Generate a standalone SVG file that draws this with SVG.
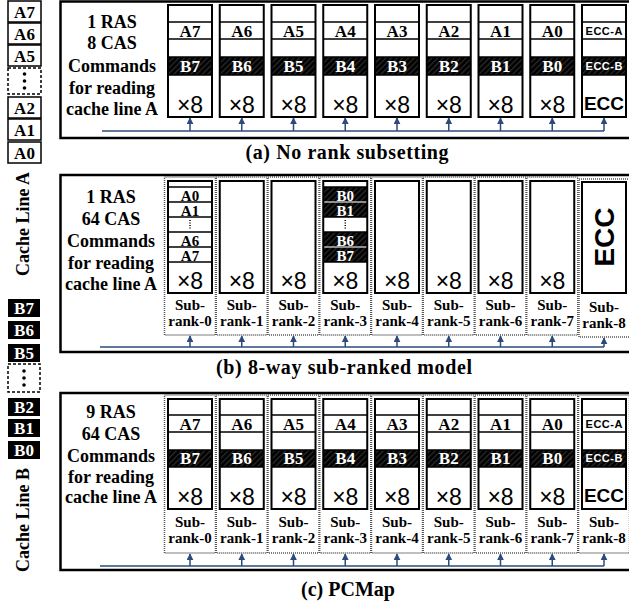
<svg xmlns="http://www.w3.org/2000/svg" width="629" height="607" viewBox="0 0 629 607">
<style>
.chip{fill:none;stroke:#000;stroke-width:2}
.bg{fill:#fff}
.row{stroke:#000;stroke-width:1.3;fill:none}
.sub{fill:none;stroke:#555;stroke-width:1.5;stroke-dasharray:1 1}
.lbl{font-family:"Liberation Serif",serif;font-weight:bold;font-size:17px;text-anchor:middle}
.sm{font-size:15px}
.cap{font-family:"Liberation Serif",serif;font-weight:bold;font-size:20px;text-anchor:middle}
.side{font-family:"Liberation Serif",serif;font-weight:bold;font-size:18px;text-anchor:middle}
.sr{font-family:"Liberation Serif",serif;font-weight:bold;font-size:15px;text-anchor:middle}
.w{fill:#fff}
.x8{font-family:"Liberation Sans",sans-serif;font-size:23px;text-anchor:middle}
.ecc{font-family:"Liberation Sans",sans-serif;font-weight:bold;text-anchor:middle}
.bus{stroke:#2c4a7c;stroke-width:1.5;fill:none}
.arr{stroke:#2c4a7c;stroke-width:1.5;fill:none;marker-end:url(#ah)}
.panel{fill:none;stroke:#000;stroke-width:2.5}
.box{fill:#fff;stroke:#000;stroke-width:1.5}
.dbox{fill:#fff;stroke:#000;stroke-width:1.5;stroke-dasharray:3 2}
</style>
<defs>
<pattern id="hatch" width="4" height="4" patternUnits="userSpaceOnUse" patternTransform="rotate(45)">
<rect width="4" height="4" fill="#000"/><rect width="1.3" height="4" fill="#2b2b2b"/>
</pattern>
<marker id="ah" viewBox="0 0 10 10" refX="9" refY="5" markerWidth="7" markerHeight="7" orient="auto" markerUnits="userSpaceOnUse">
<path d="M0 0L10 5L0 10z" fill="#2c4a7c"/>
</marker>
</defs>
<rect width="629" height="607" fill="#fff"/>

<!-- Left column: cache line A -->
<g id="cacheA">
<rect class="box" x="8" y="1" width="33" height="21"/><text class="lbl" x="24.5" y="18">A7</text>
<rect class="box" x="8" y="23" width="33" height="21"/><text class="lbl" x="24.5" y="40">A6</text>
<rect class="box" x="8" y="45" width="33" height="21"/><text class="lbl" x="24.5" y="62">A5</text>
<rect class="dbox" x="8" y="68" width="33" height="26"/>
<circle cx="24.5" cy="74" r="1.8"/><circle cx="24.5" cy="81" r="1.8"/><circle cx="24.5" cy="88" r="1.8"/>
<rect class="box" x="8" y="97" width="33" height="21"/><text class="lbl" x="24.5" y="114">A2</text>
<rect class="box" x="8" y="119" width="33" height="21"/><text class="lbl" x="24.5" y="136">A1</text>
<rect class="box" x="8" y="142" width="33" height="21"/><text class="lbl" x="24.5" y="159">A0</text>
<text class="lbl" style="font-size:18px" transform="translate(29 224) rotate(-90)">Cache Line A</text>
</g>

<!-- Left column: cache line B -->
<g id="cacheB">
<rect x="8" y="299" width="32" height="18"/><text class="lbl w" x="24" y="314">B7</text>
<rect x="8" y="321" width="32" height="18"/><text class="lbl w" x="24" y="336">B6</text>
<rect x="8" y="344" width="32" height="18"/><text class="lbl w" x="24" y="359">B5</text>
<rect class="dbox" x="8" y="364" width="32" height="28"/>
<circle cx="24" cy="371" r="1.8"/><circle cx="24" cy="378" r="1.8"/><circle cx="24" cy="385" r="1.8"/>
<rect x="8" y="398" width="32" height="18"/><text class="lbl w" x="24" y="413">B2</text>
<rect x="8" y="419" width="32" height="18"/><text class="lbl w" x="24" y="434">B1</text>
<rect x="8" y="441" width="32" height="18"/><text class="lbl w" x="24" y="456">B0</text>
<text class="lbl" style="font-size:18px" transform="translate(29 520) rotate(-90)">Cache Line B</text>
</g>

<!-- ================= Panel (a) ================= -->
<g id="panelA">
<rect class="panel" x="60.5" y="1.5" width="580" height="136.5"/>
<g id="a-cmd">
<text class="side" x="112" y="28">1 RAS</text>
<text class="side" x="112" y="49">8 CAS</text>
<text class="side" x="112" y="72">Commands</text>
<text class="side" x="112" y="94">for reading</text>
<text class="side" x="112" y="115">cache line A</text>
</g>
<text id="capA" class="cap" x="347" y="159" textLength="203">(a) No rank subsetting</text>
</g>

<g id="a-chip0" transform="translate(168 0)"><rect class="bg" x="0" y="5" width="44" height="112"/><rect x="0" y="57" width="44" height="18" fill="url(#hatch)"/><rect class="chip" x="0" y="5" width="44" height="112"/><path class="row" d="M0 22H44M0 39H44M0 57H44M0 75H44"/><text class="lbl" x="22" y="37">A7</text><text class="lbl w" x="22" y="72">B7</text><text class="x8" x="22" y="113">×8</text></g>
<g id="a-chip1" transform="translate(219.75 0)"><rect class="bg" x="0" y="5" width="44" height="112"/><rect x="0" y="57" width="44" height="18" fill="url(#hatch)"/><rect class="chip" x="0" y="5" width="44" height="112"/><path class="row" d="M0 22H44M0 39H44M0 57H44M0 75H44"/><text class="lbl" x="22" y="37">A6</text><text class="lbl w" x="22" y="72">B6</text><text class="x8" x="22" y="113">×8</text></g>
<g id="a-chip2" transform="translate(271.5 0)"><rect class="bg" x="0" y="5" width="44" height="112"/><rect x="0" y="57" width="44" height="18" fill="url(#hatch)"/><rect class="chip" x="0" y="5" width="44" height="112"/><path class="row" d="M0 22H44M0 39H44M0 57H44M0 75H44"/><text class="lbl" x="22" y="37">A5</text><text class="lbl w" x="22" y="72">B5</text><text class="x8" x="22" y="113">×8</text></g>
<g id="a-chip3" transform="translate(323.25 0)"><rect class="bg" x="0" y="5" width="44" height="112"/><rect x="0" y="57" width="44" height="18" fill="url(#hatch)"/><rect class="chip" x="0" y="5" width="44" height="112"/><path class="row" d="M0 22H44M0 39H44M0 57H44M0 75H44"/><text class="lbl" x="22" y="37">A4</text><text class="lbl w" x="22" y="72">B4</text><text class="x8" x="22" y="113">×8</text></g>
<g id="a-chip4" transform="translate(375 0)"><rect class="bg" x="0" y="5" width="44" height="112"/><rect x="0" y="57" width="44" height="18" fill="url(#hatch)"/><rect class="chip" x="0" y="5" width="44" height="112"/><path class="row" d="M0 22H44M0 39H44M0 57H44M0 75H44"/><text class="lbl" x="22" y="37">A3</text><text class="lbl w" x="22" y="72">B3</text><text class="x8" x="22" y="113">×8</text></g>
<g id="a-chip5" transform="translate(426.75 0)"><rect class="bg" x="0" y="5" width="44" height="112"/><rect x="0" y="57" width="44" height="18" fill="url(#hatch)"/><rect class="chip" x="0" y="5" width="44" height="112"/><path class="row" d="M0 22H44M0 39H44M0 57H44M0 75H44"/><text class="lbl" x="22" y="37">A2</text><text class="lbl w" x="22" y="72">B2</text><text class="x8" x="22" y="113">×8</text></g>
<g id="a-chip6" transform="translate(478.5 0)"><rect class="bg" x="0" y="5" width="44" height="112"/><rect x="0" y="57" width="44" height="18" fill="url(#hatch)"/><rect class="chip" x="0" y="5" width="44" height="112"/><path class="row" d="M0 22H44M0 39H44M0 57H44M0 75H44"/><text class="lbl" x="22" y="37">A1</text><text class="lbl w" x="22" y="72">B1</text><text class="x8" x="22" y="113">×8</text></g>
<g id="a-chip7" transform="translate(530.25 0)"><rect class="bg" x="0" y="5" width="44" height="112"/><rect x="0" y="57" width="44" height="18" fill="url(#hatch)"/><rect class="chip" x="0" y="5" width="44" height="112"/><path class="row" d="M0 22H44M0 39H44M0 57H44M0 75H44"/><text class="lbl" x="22" y="37">A0</text><text class="lbl w" x="22" y="72">B0</text><text class="x8" x="22" y="113">×8</text></g>
<g id="a-ecc" transform="translate(582 0)"><rect class="bg" x="0" y="5" width="44" height="112"/><rect x="0" y="57" width="44" height="18" fill="url(#hatch)"/><rect class="chip" x="0" y="5" width="44" height="112"/><path class="row" d="M0 22H44M0 39H44M0 57H44M0 75H44"/><text class="ecc" x="22" y="35" font-size="11" textLength="37">ECC-A</text><text class="ecc w" x="22" y="70" font-size="11" textLength="37">ECC-B</text><text class="ecc" x="22" y="110" font-size="19">ECC</text></g>

<!-- ================= Panel (b) ================= -->
<g id="panelB">
<rect class="panel" x="60.5" y="175" width="580" height="177"/>
<g id="b-cmd">
<text class="side" x="111" y="203">1 RAS</text>
<text class="side" x="111" y="225">64 CAS</text>
<text class="side" x="111" y="247">Commands</text>
<text class="side" x="111" y="269">for reading</text>
<text class="side" x="111" y="290">cache line A</text>
</g>
<text id="capB" class="cap" x="344" y="374" textLength="256">(b) 8-way sub-ranked model</text>
</g>

<g id="b-sr0" transform="translate(168 0)">
<rect class="sub" x="-3.5" y="177" width="51" height="158"/>
<rect class="bg" x="0" y="181" width="44" height="112"/>
<path class="row" d="M0 187H44M0 202H44M0 217H44M0 232H44M0 247H44M0 262H44"/>
<path d="M22 220V230" stroke="#000" stroke-width="1.5" stroke-dasharray="1 1.5"/>
<text class="lbl sm" x="22" y="200.5">A0</text><text class="lbl sm" x="22" y="215.5">A1</text><text class="lbl sm" x="22" y="245.5">A6</text><text class="lbl sm" x="22" y="260.5">A7</text>
<rect class="chip" x="0" y="181" width="44" height="112"/>
<text class="x8" x="22" y="289">×8</text>
<text class="sr" x="22" y="310">Sub-</text><text class="sr" x="22" y="326">rank-0</text>
</g>
<g id="b-sr1" transform="translate(219.75 0)"><rect class="sub" x="-3.5" y="177" width="51" height="158"/><rect class="chip" x="0" y="181" width="44" height="112" style="fill:#fff"/><text class="x8" x="22" y="289">×8</text><text class="sr" x="22" y="310">Sub-</text><text class="sr" x="22" y="326">rank-1</text></g>
<g id="b-sr2" transform="translate(271.5 0)"><rect class="sub" x="-3.5" y="177" width="51" height="158"/><rect class="chip" x="0" y="181" width="44" height="112" style="fill:#fff"/><text class="x8" x="22" y="289">×8</text><text class="sr" x="22" y="310">Sub-</text><text class="sr" x="22" y="326">rank-2</text></g>
<g id="b-sr3" transform="translate(323.25 0)">
<rect class="sub" x="-3.5" y="177" width="51" height="158"/>
<rect class="bg" x="0" y="181" width="44" height="112"/>
<rect x="0" y="187" width="44" height="30" fill="url(#hatch)"/>
<rect x="0" y="232" width="44" height="30" fill="url(#hatch)"/>
<path d="M0 202H44M0 247H44" stroke="#bbb" stroke-width="1.3"/>
<path class="row" d="M0 187H44M0 217H44M0 232H44M0 262H44"/>
<path d="M22 220V230" stroke="#000" stroke-width="1.5" stroke-dasharray="1 1.5"/>
<text class="lbl sm w" x="22" y="200.5">B0</text><text class="lbl sm w" x="22" y="215.5">B1</text><text class="lbl sm w" x="22" y="245.5">B6</text><text class="lbl sm w" x="22" y="260.5">B7</text>
<rect class="chip" x="0" y="181" width="44" height="112"/>
<text class="x8" x="22" y="289">×8</text>
<text class="sr" x="22" y="310">Sub-</text><text class="sr" x="22" y="326">rank-3</text>
</g>
<g id="b-sr4" transform="translate(375 0)"><rect class="sub" x="-3.5" y="177" width="51" height="158"/><rect class="chip" x="0" y="181" width="44" height="112" style="fill:#fff"/><text class="x8" x="22" y="289">×8</text><text class="sr" x="22" y="310">Sub-</text><text class="sr" x="22" y="326">rank-4</text></g>
<g id="b-sr5" transform="translate(426.75 0)"><rect class="sub" x="-3.5" y="177" width="51" height="158"/><rect class="chip" x="0" y="181" width="44" height="112" style="fill:#fff"/><text class="x8" x="22" y="289">×8</text><text class="sr" x="22" y="310">Sub-</text><text class="sr" x="22" y="326">rank-5</text></g>
<g id="b-sr6" transform="translate(478.5 0)"><rect class="sub" x="-3.5" y="177" width="51" height="158"/><rect class="chip" x="0" y="181" width="44" height="112" style="fill:#fff"/><text class="x8" x="22" y="289">×8</text><text class="sr" x="22" y="310">Sub-</text><text class="sr" x="22" y="326">rank-6</text></g>
<g id="b-sr7" transform="translate(530.25 0)"><rect class="sub" x="-3.5" y="177" width="51" height="158"/><rect class="chip" x="0" y="181" width="44" height="112" style="fill:#fff"/><text class="x8" x="22" y="289">×8</text><text class="sr" x="22" y="310">Sub-</text><text class="sr" x="22" y="326">rank-7</text></g>
<g id="b-sr8" transform="translate(582 0)"><rect class="sub" x="-3" y="179" width="51" height="158"/><rect class="chip" x="0" y="182" width="44" height="111" style="fill:#fff"/><text class="ecc" font-size="28" transform="translate(32 237) rotate(-90)">ECC</text><text class="sr" x="22" y="312">Sub-</text><text class="sr" x="22" y="328">rank-8</text></g>

<!-- ================= Panel (c) ================= -->
<g id="panelC">
<rect class="panel" x="60.5" y="393" width="580" height="177"/>
<g id="c-cmd">
<text class="side" x="111" y="418">9 RAS</text>
<text class="side" x="111" y="440">64 CAS</text>
<text class="side" x="111" y="462">Commands</text>
<text class="side" x="111" y="483">for reading</text>
<text class="side" x="111" y="503">cache line A</text>
</g>
<text id="capC" class="cap" x="348" y="596">(c) PCMap</text>
</g>

<g id="c-sr0" transform="translate(168 0)"><rect class="sub" x="-3.5" y="395" width="51" height="158"/><rect class="bg" x="0" y="399" width="44" height="110"/><rect x="0" y="450" width="44" height="17" fill="url(#hatch)"/><rect class="chip" x="0" y="399" width="44" height="110"/><path class="row" d="M0 415H44M0 432H44M0 450H44M0 467H44"/><text class="lbl" x="22" y="430">A7</text><text class="lbl w" x="22" y="464">B7</text><text class="x8" x="22" y="505">×8</text><text class="sr" x="22" y="527">Sub-</text><text class="sr" x="22" y="543">rank-0</text></g>
<g id="c-sr1" transform="translate(219.75 0)"><rect class="sub" x="-3.5" y="395" width="51" height="158"/><rect class="bg" x="0" y="399" width="44" height="110"/><rect x="0" y="450" width="44" height="17" fill="url(#hatch)"/><rect class="chip" x="0" y="399" width="44" height="110"/><path class="row" d="M0 415H44M0 432H44M0 450H44M0 467H44"/><text class="lbl" x="22" y="430">A6</text><text class="lbl w" x="22" y="464">B6</text><text class="x8" x="22" y="505">×8</text><text class="sr" x="22" y="527">Sub-</text><text class="sr" x="22" y="543">rank-1</text></g>
<g id="c-sr2" transform="translate(271.5 0)"><rect class="sub" x="-3.5" y="395" width="51" height="158"/><rect class="bg" x="0" y="399" width="44" height="110"/><rect x="0" y="450" width="44" height="17" fill="url(#hatch)"/><rect class="chip" x="0" y="399" width="44" height="110"/><path class="row" d="M0 415H44M0 432H44M0 450H44M0 467H44"/><text class="lbl" x="22" y="430">A5</text><text class="lbl w" x="22" y="464">B5</text><text class="x8" x="22" y="505">×8</text><text class="sr" x="22" y="527">Sub-</text><text class="sr" x="22" y="543">rank-2</text></g>
<g id="c-sr3" transform="translate(323.25 0)"><rect class="sub" x="-3.5" y="395" width="51" height="158"/><rect class="bg" x="0" y="399" width="44" height="110"/><rect x="0" y="450" width="44" height="17" fill="url(#hatch)"/><rect class="chip" x="0" y="399" width="44" height="110"/><path class="row" d="M0 415H44M0 432H44M0 450H44M0 467H44"/><text class="lbl" x="22" y="430">A4</text><text class="lbl w" x="22" y="464">B4</text><text class="x8" x="22" y="505">×8</text><text class="sr" x="22" y="527">Sub-</text><text class="sr" x="22" y="543">rank-3</text></g>
<g id="c-sr4" transform="translate(375 0)"><rect class="sub" x="-3.5" y="395" width="51" height="158"/><rect class="bg" x="0" y="399" width="44" height="110"/><rect x="0" y="450" width="44" height="17" fill="url(#hatch)"/><rect class="chip" x="0" y="399" width="44" height="110"/><path class="row" d="M0 415H44M0 432H44M0 450H44M0 467H44"/><text class="lbl" x="22" y="430">A3</text><text class="lbl w" x="22" y="464">B3</text><text class="x8" x="22" y="505">×8</text><text class="sr" x="22" y="527">Sub-</text><text class="sr" x="22" y="543">rank-4</text></g>
<g id="c-sr5" transform="translate(426.75 0)"><rect class="sub" x="-3.5" y="395" width="51" height="158"/><rect class="bg" x="0" y="399" width="44" height="110"/><rect x="0" y="450" width="44" height="17" fill="url(#hatch)"/><rect class="chip" x="0" y="399" width="44" height="110"/><path class="row" d="M0 415H44M0 432H44M0 450H44M0 467H44"/><text class="lbl" x="22" y="430">A2</text><text class="lbl w" x="22" y="464">B2</text><text class="x8" x="22" y="505">×8</text><text class="sr" x="22" y="527">Sub-</text><text class="sr" x="22" y="543">rank-5</text></g>
<g id="c-sr6" transform="translate(478.5 0)"><rect class="sub" x="-3.5" y="395" width="51" height="158"/><rect class="bg" x="0" y="399" width="44" height="110"/><rect x="0" y="450" width="44" height="17" fill="url(#hatch)"/><rect class="chip" x="0" y="399" width="44" height="110"/><path class="row" d="M0 415H44M0 432H44M0 450H44M0 467H44"/><text class="lbl" x="22" y="430">A1</text><text class="lbl w" x="22" y="464">B1</text><text class="x8" x="22" y="505">×8</text><text class="sr" x="22" y="527">Sub-</text><text class="sr" x="22" y="543">rank-6</text></g>
<g id="c-sr7" transform="translate(530.25 0)"><rect class="sub" x="-3.5" y="395" width="51" height="158"/><rect class="bg" x="0" y="399" width="44" height="110"/><rect x="0" y="450" width="44" height="17" fill="url(#hatch)"/><rect class="chip" x="0" y="399" width="44" height="110"/><path class="row" d="M0 415H44M0 432H44M0 450H44M0 467H44"/><text class="lbl" x="22" y="430">A0</text><text class="lbl w" x="22" y="464">B0</text><text class="x8" x="22" y="505">×8</text><text class="sr" x="22" y="527">Sub-</text><text class="sr" x="22" y="543">rank-7</text></g>
<g id="c-sr8" transform="translate(582 0)"><rect class="sub" x="-3.5" y="395" width="51" height="158"/><rect class="bg" x="0" y="399" width="44" height="110"/><rect x="0" y="450" width="44" height="17" fill="url(#hatch)"/><rect class="chip" x="0" y="399" width="44" height="110"/><path class="row" d="M0 415H44M0 432H44M0 450H44M0 467H44"/><text class="ecc" x="22" y="428" font-size="11" textLength="37">ECC-A</text><text class="ecc w" x="22" y="462" font-size="11" textLength="37">ECC-B</text><text class="ecc" x="22" y="502" font-size="19">ECC</text><text class="sr" x="22" y="527">Sub-</text><text class="sr" x="22" y="543">rank-8</text></g>

<!-- ================= Connectors ================= -->
<g id="connectors">
<path class="bus" d="M102 131H604"/>
<path class="arr" d="M190 131V118"/><path class="arr" d="M241.75 131V118"/><path class="arr" d="M293.5 131V118"/><path class="arr" d="M345.25 131V118"/><path class="arr" d="M397 131V118"/><path class="arr" d="M448.75 131V118"/><path class="arr" d="M500.5 131V118"/><path class="arr" d="M552.25 131V118"/><path class="arr" d="M604 131V118"/>
<path class="bus" d="M100 347H604"/>
<path class="arr" d="M190 347V336"/><path class="arr" d="M241.75 347V336"/><path class="arr" d="M293.5 347V336"/><path class="arr" d="M345.25 347V336"/><path class="arr" d="M397 347V336"/><path class="arr" d="M448.75 347V336"/><path class="arr" d="M500.5 347V336"/><path class="arr" d="M552.25 347V336"/><path class="arr" d="M604 347V338"/>
<path class="bus" d="M100 566H604"/>
<path class="arr" d="M190 566V554"/><path class="arr" d="M241.75 566V554"/><path class="arr" d="M293.5 566V554"/><path class="arr" d="M345.25 566V554"/><path class="arr" d="M397 566V554"/><path class="arr" d="M448.75 566V554"/><path class="arr" d="M500.5 566V554"/><path class="arr" d="M552.25 566V554"/><path class="arr" d="M604 566V554"/>
</g>
</svg>
